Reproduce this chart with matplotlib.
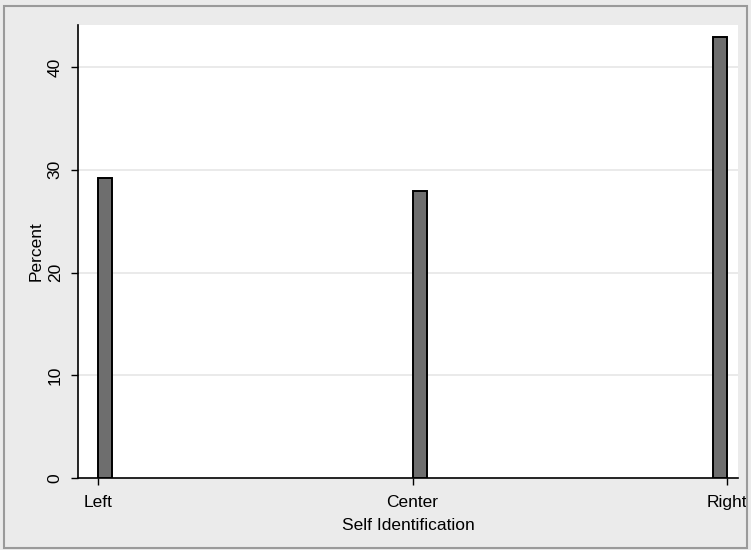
import numpy as np
import matplotlib.pyplot as plt
from matplotlib.patches import Rectangle

# data
categories = ['Left', 'Center', 'Right']
percent = [29.2, 27.9, 42.9]
y_ticks = [0, 10, 20, 30, 40]

plt.rcParams['font.family'] = ['Liberation Sans', 'DejaVu Sans']

fig = plt.figure(figsize=(7.51, 5.50), dpi=100)
fig.patch.set_facecolor('#ebebeb')
fig.patches.append(Rectangle((0.005, 0.004), 0.99, 0.985, transform=fig.transFigure,
                             fill=False, edgecolor='#9a9a9a', linewidth=1.5))

ax = fig.add_axes([0.1039, 0.1309, 0.8788, 0.8236])
ax.set_facecolor('white')

width = 0.045
pos = np.arange(1, len(categories) + 1)
# bars sit beside the tick like the original (Right bar ends at its tick)
offsets = np.array([0.0, 0.0, -width])
ax.bar(pos + offsets, percent, width=width, align='edge',
       color='#6e6e6e', edgecolor='black', linewidth=1.4, zorder=3)

ax.set_xlim(0.936, 3.035)
ax.set_ylim(0, 44.1)
ax.set_xticks(pos)
ax.set_xticklabels(categories, fontsize=12.5)
ax.set_yticks(y_ticks)
ax.set_yticklabels([str(t) for t in y_ticks], fontsize=12.5, rotation=90, va='center')

for t in y_ticks[1:]:
    ax.axhline(t, color='#e6e6e6', linewidth=1.2, zorder=1)

ax.spines['top'].set_visible(False)
ax.spines['right'].set_visible(False)
ax.spines['left'].set_linewidth(1.2)
ax.spines['bottom'].set_linewidth(1.2)
ax.tick_params(axis='x', direction='out', length=5, width=1, pad=7)
ax.tick_params(axis='y', direction='out', length=5, width=1, pad=6)

ax.set_ylabel('Percent', fontsize=12.5, labelpad=3)
ax.set_xlabel('Self Identification', fontsize=12.5, labelpad=6)

fig.savefig('out.png', dpi=100, facecolor=fig.get_facecolor())
